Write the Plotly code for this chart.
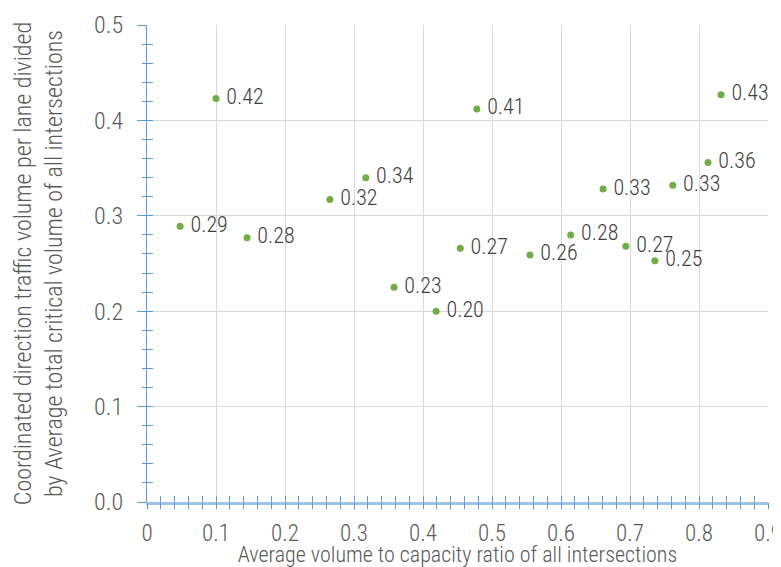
import plotly.graph_objects as go

vc_ratio = [0.048, 0.100, 0.145, 0.265, 0.317, 0.358, 0.419, 0.454, 0.478,
            0.555, 0.614, 0.661, 0.694, 0.736, 0.762, 0.813, 0.832]
coord_ratio = [0.289, 0.423, 0.277, 0.317, 0.340, 0.225, 0.200, 0.266, 0.412,
               0.259, 0.280, 0.328, 0.268, 0.253, 0.332, 0.356, 0.427]
labels = [f"{v:.2f}" for v in coord_ratio]

x_ticks = [0, 0.1, 0.2, 0.3, 0.4, 0.5, 0.6, 0.7, 0.8, 0.9]
x_tick_text = ["0", "0.1", "0.2", "0.3", "0.4", "0.5", "0.6", "0.7", "0.8", "0.9"]
y_ticks = [0, 0.1, 0.2, 0.3, 0.4, 0.5]
y_tick_text = ["0.0", "0.1", "0.2", "0.3", "0.4", "0.5"]

FONT = "Roboto Condensed, Roboto, sans-serif"
AXIS_BLUE = "#5B9BD5"

fig = go.Figure()
fig.add_trace(go.Scatter(
    x=vc_ratio, y=coord_ratio, mode="markers+text",
    text=[" " + t for t in labels], textposition="middle right",
    textfont=dict(family=FONT, size=22, color="#404040", weight=300),
    marker=dict(color="#70AD47", size=7),
    showlegend=False, cliponaxis=False,
))
fig.add_trace(go.Scatter(x=[None], y=[None], xaxis="x2", yaxis="y2",
                         showlegend=False, hoverinfo="skip"))

fig.update_layout(
    width=773, height=559,
    margin=dict(l=139, r=13, t=17, b=65),
    plot_bgcolor="white", paper_bgcolor="white",
    font=dict(family=FONT, color="#595959", weight=300),
    xaxis=dict(
        range=[0, 0.9], tickvals=x_ticks, ticktext=x_tick_text,
        tickfont=dict(size=23, color="#595959", weight=300),
        showgrid=True, gridcolor="#D9D9D9", gridwidth=1,
        zeroline=False, showline=True, linecolor="#9DC3E6", linewidth=3,
        ticks="inside", ticklen=6, tickcolor=AXIS_BLUE, tickwidth=1,
        minor=dict(dtick=0.02, ticks="inside", ticklen=6, tickcolor=AXIS_BLUE,
                   showgrid=False),
        ticklabelstandoff=8, automargin=False, ticklabeloverflow="allow",
        title=dict(text="Average volume to capacity ratio of all intersections",
                   font=dict(size=22, color="#595959", weight=300), standoff=1),
    ),
    yaxis=dict(
        range=[0, 0.5], tickvals=y_ticks, ticktext=y_tick_text,
        tickfont=dict(size=24, color="#595959", weight=300),
        showgrid=True, gridcolor="#D9D9D9", gridwidth=1,
        zeroline=False, showline=True, linecolor=AXIS_BLUE, linewidth=1,
        ticks="inside", ticklen=6, tickcolor=AXIS_BLUE, tickwidth=1,
        minor=dict(dtick=0.02, ticks="inside", ticklen=6, tickcolor=AXIS_BLUE,
                   showgrid=False),
        ticklabelstandoff=18, automargin=False,
        title=dict(text="Coordinated direction traffic volume per lane divided<br>by Average total critical volume of all intersections",
                   font=dict(size=24, color="#595959", weight=300), standoff=24),
    ),
    xaxis2=dict(overlaying="x", matches="x", range=[0, 0.9], showticklabels=False,
                showgrid=False, zeroline=False, showline=False, automargin=False,
                tickvals=x_ticks, ticks="outside", ticklen=6, tickcolor=AXIS_BLUE,
                minor=dict(dtick=0.02, ticks="outside", ticklen=6, tickcolor=AXIS_BLUE)),
    yaxis2=dict(overlaying="y", matches="y", range=[0, 0.5], showticklabels=False,
                showgrid=False, zeroline=False, showline=False, automargin=False,
                tickvals=y_ticks, ticks="outside", ticklen=9, tickcolor=AXIS_BLUE,
                minor=dict(dtick=0.02, ticks="outside", ticklen=4, tickcolor=AXIS_BLUE)),
)

fig.write_html("out.html")
